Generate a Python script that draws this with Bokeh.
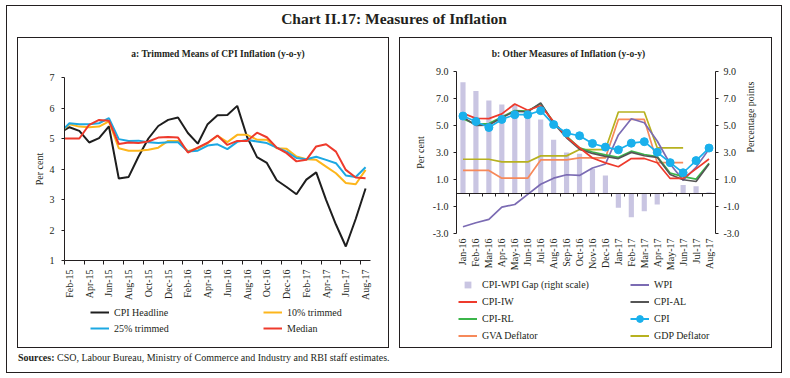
import math
from bokeh.plotting import figure
from bokeh.models import (FixedTicker, LinearAxis, Range1d, Legend, LegendItem, Div,
                          Spacer, NumeralTickFormatter)
from bokeh.layouts import column, row
from bokeh.embed import file_html
from bokeh.resources import INLINE

FONT = "Liberation Serif"
INK = "#231F20"

# ---------------- Panel a: Trimmed means (Jan-15 .. Aug-17) ----------------
months_a = ["Jan-15", "Feb-15", "Mar-15", "Apr-15", "May-15", "Jun-15", "Jul-15", "Aug-15",
            "Sep-15", "Oct-15", "Nov-15", "Dec-15", "Jan-16", "Feb-16", "Mar-16", "Apr-16",
            "May-16", "Jun-16", "Jul-16", "Aug-16", "Sep-16", "Oct-16", "Nov-16", "Dec-16",
            "Jan-17", "Feb-17", "Mar-17", "Apr-17", "May-17", "Jun-17", "Jul-17", "Aug-17"]
cpi_headline = [5.19, 5.37, 5.25, 4.87, 5.01, 5.40, 3.69, 3.74, 4.41, 5.00, 5.41, 5.61,
                5.69, 5.18, 4.83, 5.47, 5.76, 5.77, 6.07, 5.05, 4.39, 4.20, 3.63, 3.41,
                3.17, 3.65, 3.89, 2.99, 2.18, 1.46, 2.36, 3.36]
trim10 = [5.17, 5.47, 5.39, 5.37, 5.39, 5.56, 4.68, 4.60, 4.60, 4.63, 4.70, 4.92,
          4.92, 4.58, 4.68, 4.85, 5.09, 4.88, 5.12, 5.12, 4.96, 4.96, 4.68, 4.66,
          4.41, 4.32, 4.30, 4.08, 3.86, 3.54, 3.50, 3.97]
trim25 = [5.18, 5.50, 5.47, 5.47, 5.50, 5.67, 4.98, 4.92, 4.93, 4.88, 4.85, 4.88,
          4.88, 4.57, 4.60, 4.77, 4.81, 4.65, 4.89, 4.96, 4.90, 4.85, 4.70, 4.57,
          4.36, 4.32, 4.40, 4.30, 4.19, 3.79, 3.74, 4.06]
median = [5.00, 5.00, 5.00, 5.45, 5.61, 5.58, 4.82, 4.87, 4.85, 4.90, 5.03, 5.05,
          5.03, 4.54, 4.70, 4.86, 5.10, 4.79, 4.92, 4.92, 5.19, 5.04, 4.70, 4.52,
          4.25, 4.30, 4.74, 4.81, 4.57, 3.97, 3.72, 3.70]
yticks_a = [1, 2, 3, 4, 5, 6, 7]

# ---------------- Panel b: Other measures (Jan-16 .. Aug-17) ----------------
months_b = ["Jan-16", "Feb-16", "Mar-16", "Apr-16", "May-16", "Jun-16", "Jul-16", "Aug-16",
            "Sep-16", "Oct-16", "Nov-16", "Dec-16", "Jan-17", "Feb-17", "Mar-17", "Apr-17",
            "May-17", "Jun-17", "Jul-17", "Aug-17"]
gap = [8.20, 7.55, 6.85, 6.55, 6.55, 6.00, 5.45, 3.95, 3.00, 2.90, 1.80, 1.30,
       -1.10, -1.80, -1.35, -0.85, 0.06, 0.60, 0.50, 0.05]
wpi = [-2.50, -2.20, -1.95, -1.05, -0.85, -0.10, 0.65, 1.10, 1.35, 1.30, 1.85, 2.15,
       4.30, 5.50, 5.20, 3.85, 2.15, 0.95, 1.90, 3.25]
cpi = [5.70, 5.30, 4.85, 5.45, 5.80, 5.80, 6.10, 5.07, 4.44, 4.24, 3.67, 3.40,
       3.20, 3.69, 3.80, 3.02, 2.25, 1.50, 2.40, 3.33]
cpi_iw = [5.91, 5.53, 5.51, 5.86, 6.59, 6.13, 6.46, 5.30, 4.14, 3.35, 2.59, 2.23,
          1.94, 2.55, 2.56, 2.24, 1.08, 1.08, 1.79, 2.52]
cpi_al = [5.61, 5.01, 5.03, 5.58, 6.05, 6.02, 6.67, 5.17, 4.09, 3.25, 2.93, 2.71,
          2.55, 3.01, 2.76, 2.64, 1.37, 0.98, 0.85, 2.14]
cpi_rl = [5.51, 5.08, 5.14, 5.63, 6.11, 6.07, 6.62, 5.24, 4.22, 3.35, 3.04, 2.83,
          2.64, 3.10, 2.85, 2.70, 1.48, 1.21, 1.03, 2.21]
nan = float("nan")
gva_defl = [1.67, 1.67, 1.67, 1.10, 1.10, 1.10, 2.45, 2.45, 2.45, 2.60, 2.60, 2.60,
            5.45, 5.45, 5.45, 2.25, 2.25, 2.25, nan, nan]
gdp_defl = [2.50, 2.50, 2.50, 2.30, 2.30, 2.30, 2.75, 2.75, 2.75, 3.22, 3.22, 3.22,
            6.00, 6.00, 6.00, 3.35, 3.35, 3.35, nan, nan]
yticks_b = [-3, -1, 1, 3, 5, 7, 9]

# ---------------- colours ----------------
C_BLACK = "#1E1E1E"
C_T10 = "#FDB61C"
C_T25 = "#1CA8E2"
C_MED = "#EE3A2C"
C_BAR = "#C9C5E2"
C_WPI = "#7B6BB3"
C_IW = "#EE3A2C"
C_AL = "#555555"
C_RL = "#3BB54A"
C_CPI = "#1AB0EC"
C_GVA = "#F6895A"
C_GDP = "#B7B11F"


def style_common(p):
    p.outline_line_color = None
    p.grid.visible = False
    p.background_fill_color = "white"
    p.border_fill_color = "white"


def style_axis(ax):
    ax.axis_line_color = INK
    ax.major_tick_line_color = INK
    ax.minor_tick_line_color = None
    ax.major_label_text_font = FONT
    ax.major_label_text_font_size = "10px"
    ax.major_label_text_color = INK
    ax.axis_label_text_font = FONT
    ax.axis_label_text_font_size = "10px"
    ax.axis_label_text_font_style = "normal"
    ax.axis_label_text_color = INK


def legend_figure(width, height):
    # the key lines below are real series, kept outside this strip's visible range
    f = figure(width=width, height=height, x_range=Range1d(0, 1), y_range=Range1d(100, 101),
               x_axis_type=None, y_axis_type=None, output_backend="svg",
               toolbar_location=None, min_border=0)
    f.outline_line_color = None
    f.grid.visible = False
    f.background_fill_alpha = 0
    f.border_fill_alpha = 0
    return f


def style_legend(lg, label_width, row_h):
    lg.border_line_color = None
    lg.background_fill_alpha = 0
    lg.padding = 0
    lg.margin = 0
    lg.spacing = 0
    lg.glyph_width = 19
    lg.glyph_height = row_h
    lg.label_height = row_h
    lg.label_width = label_width
    lg.label_standoff = 5
    lg.label_text_font = FONT
    lg.label_text_font_size = "10px"
    lg.label_text_color = INK


def html_text(txt, size, weight, lh, align, width, indent=0):
    return ('<div style="font-family:%s;font-size:%s;font-weight:%s;line-height:%dpx;'
            'text-align:%s;text-indent:%dpx;color:%s;white-space:nowrap;width:%dpx;'
            'margin:0;padding:0">%s</div>'
            % (FONT, size, weight, lh, align, indent, INK, width, txt))


# ================= Panel a =================
xa = list(range(len(months_a)))
p1 = figure(width=370, height=240, x_range=Range1d(0.5, 31.5), y_range=Range1d(1, 7),
            output_backend="svg", toolbar_location=None,
            min_border_left=46, min_border_right=18, min_border_top=13, min_border_bottom=44)
style_common(p1)

p1.line(xa, cpi_headline, line_color=C_BLACK, line_width=2)
p1.line(xa, trim10, line_color=C_T10, line_width=2)
p1.line(xa, trim25, line_color=C_T25, line_width=2)
p1.line(xa, median, line_color=C_MED, line_width=2)

xax = p1.xaxis[0]
style_axis(xax)
xax.ticker = FixedTicker(ticks=[k for k in xa if k % 2 == 1],
                         minor_ticks=[k + 0.5 for k in xa if k % 2 == 0 and k < 31])
xax.major_label_overrides = {k: months_a[k] for k in xa if k % 2 == 1}
xax.major_tick_out = 0
xax.major_tick_in = 0
xax.major_tick_line_color = None
xax.minor_tick_line_color = INK
xax.minor_tick_out = 4
xax.minor_tick_in = 0
xax.major_label_orientation = math.pi / 2
xax.major_label_standoff = 5

yax = p1.yaxis[0]
style_axis(yax)
yax.ticker = FixedTicker(ticks=yticks_a)
yax.major_tick_out = 3
yax.major_tick_in = 0
yax.major_label_standoff = 7
yax.axis_label = "Per cent"
yax.axis_label_standoff = 2

# legend strip for panel a
la = legend_figure(370, 43)
k_h = la.line(xa, cpi_headline, line_color=C_BLACK, line_width=2)
k_10 = la.line(xa, trim10, line_color=C_T10, line_width=2)
k_25 = la.line(xa, trim25, line_color=C_T25, line_width=2)
k_md = la.line(xa, median, line_color=C_MED, line_width=2)
leg1 = Legend(items=[LegendItem(label="CPI Headline", renderers=[k_h]),
                     LegendItem(label="10% trimmed", renderers=[k_10]),
                     LegendItem(label="25% trimmed", renderers=[k_25]),
                     LegendItem(label="Median", renderers=[k_md])],
              location=(26, 11), orientation="horizontal", ncols=2)
style_legend(leg1, 149, 16)
la.add_layout(leg1, "center")

# ================= Panel b =================
xb = list(range(len(months_b)))
p2 = figure(width=371, height=209, x_range=Range1d(-0.5, 19.5), y_range=Range1d(-3, 9),
            output_backend="svg", toolbar_location=None,
            min_border_left=56, min_border_right=56, min_border_top=7, min_border_bottom=40)
style_common(p2)
p2.extra_y_ranges = {"right": Range1d(-3, 9)}

p2.vbar(x=xb, top=gap, bottom=0, width=0.4, fill_color=C_BAR, line_color=None,
        y_range_name="right")
p2.line(xb, gdp_defl, line_color=C_GDP, line_width=1.7)
p2.line(xb, gva_defl, line_color=C_GVA, line_width=1.7)
p2.line(xb, wpi, line_color=C_WPI, line_width=1.7)
p2.line(xb, cpi_rl, line_color=C_RL, line_width=1.7)
p2.line(xb, cpi_al, line_color=C_AL, line_width=1.7)
p2.line(xb, cpi_iw, line_color=C_IW, line_width=1.7)
p2.line(xb, cpi, line_color=C_CPI, line_width=1.7)
p2.scatter(xb, cpi, marker="circle", size=8, fill_color=C_CPI, line_color=C_CPI)

xbx = p2.xaxis[0]
style_axis(xbx)
xbx.ticker = FixedTicker(ticks=xb)
xbx.major_label_overrides = {k: months_b[k] for k in xb}
xbx.axis_line_color = None
xbx.major_tick_line_color = None
xbx.major_tick_out = 0
xbx.major_tick_in = 0
xbx.major_label_orientation = math.pi / 2
xbx.major_label_standoff = 5

zero_axis = LinearAxis(fixed_location=0,
                       ticker=FixedTicker(ticks=[], minor_ticks=[k + 0.5 for k in xb[:-1]]))
style_axis(zero_axis)
zero_axis.major_label_text_font_size = "0px"
zero_axis.major_tick_line_color = None
zero_axis.major_tick_out = 0
zero_axis.minor_tick_line_color = INK
zero_axis.minor_tick_out = 3
zero_axis.minor_tick_in = 0
p2.add_layout(zero_axis, "below")

ybl = p2.yaxis[0]
style_axis(ybl)
ybl.ticker = FixedTicker(ticks=yticks_b)
ybl.formatter = NumeralTickFormatter(format="0.0")
ybl.major_tick_out = 3
ybl.major_tick_in = 0
ybl.major_label_standoff = 5
ybl.axis_label = "Per cent"
ybl.axis_label_standoff = 4

ybr = LinearAxis(y_range_name="right", ticker=FixedTicker(ticks=yticks_b),
                 formatter=NumeralTickFormatter(format="0.0"), axis_label="Percentage points")
style_axis(ybr)
ybr.major_tick_out = 3
ybr.major_tick_in = 0
ybr.major_label_standoff = 5
ybr.axis_label_standoff = 8
if "axis_label_orientation" in ybr.properties():
    ybr.axis_label_orientation = math.pi / 2
p2.add_layout(ybr, "right")

# legend strip for panel b
lb = legend_figure(371, 74)
g_gap = lb.scatter(xb, gap, marker="square", size=9, fill_color=C_BAR, line_color=None)
g_wpi = lb.line(xb, wpi, line_color=C_WPI, line_width=2)
g_iw = lb.line(xb, cpi_iw, line_color=C_IW, line_width=2)
g_al = lb.line(xb, cpi_al, line_color=C_AL, line_width=2)
g_rl = lb.line(xb, cpi_rl, line_color=C_RL, line_width=2)
g_cpi = lb.line(xb, cpi, line_color=C_CPI, line_width=2)
g_cpim = lb.scatter(xb, cpi, marker="circle", size=8, fill_color=C_CPI, line_color=C_CPI)
g_gva = lb.line(xb, gva_defl, line_color=C_GVA, line_width=2)
g_gdp = lb.line(xb, gdp_defl, line_color=C_GDP, line_width=2)
leg2 = Legend(items=[LegendItem(label="CPI-WPI Gap (right scale)", renderers=[g_gap]),
                     LegendItem(label="WPI", renderers=[g_wpi]),
                     LegendItem(label="CPI-IW", renderers=[g_iw]),
                     LegendItem(label="CPI-AL", renderers=[g_al]),
                     LegendItem(label="CPI-RL", renderers=[g_rl]),
                     LegendItem(label="CPI", renderers=[g_cpi, g_cpim]),
                     LegendItem(label="GVA Deflator", renderers=[g_gva]),
                     LegendItem(label="GDP Deflator", renderers=[g_gdp])],
              location=(2, 3), orientation="horizontal", ncols=2)
style_legend(leg2, 148, 17)
lb.add_layout(leg2, "center")

# ================= Page =================
BOX = {"outline": "1px solid " + INK, "outline-offset": "0px"}
M0 = (0, 0, 0, 0)

sub_a = Div(text=html_text("a: Trimmed Means of CPI Inflation (y-o-y)", "9.5px", "bold", 32,
                           "center", 370, 30), width=370, height=26, margin=M0)
sub_b = Div(text=html_text("b: Other Measures of Inflation (y-o-y)", "9.5px", "bold", 32,
                           "center", 371, -34), width=371, height=26, margin=M0)
panel_a = column(sub_a, p1, la, styles=BOX, margin=M0)
panel_b = column(sub_b, p2, lb, styles=BOX, margin=M0)

title_div = Div(text=html_text("Chart II.17: Measures of Inflation", "15.5px", "bold", 26,
                               "center", 774), width=774, height=32, margin=M0)
src_div = Div(text=html_text("<b>Sources:</b> CSO, Labour Bureau, Ministry of Commerce and "
                             "Industry and RBI staff estimates.", "10px", "normal", 22, "left",
                             763), width=763, height=25, margin=M0)

root = column(title_div,
              row(Spacer(width=11, height=309, margin=M0), panel_a,
                  Spacer(width=12, height=309, margin=M0), panel_b, margin=M0),
              row(Spacer(width=11, height=25, margin=M0), src_div, margin=M0),
              styles=BOX, margin=(6, 0, 0, 7))

open("out.html", "w").write(file_html(root, INLINE))
